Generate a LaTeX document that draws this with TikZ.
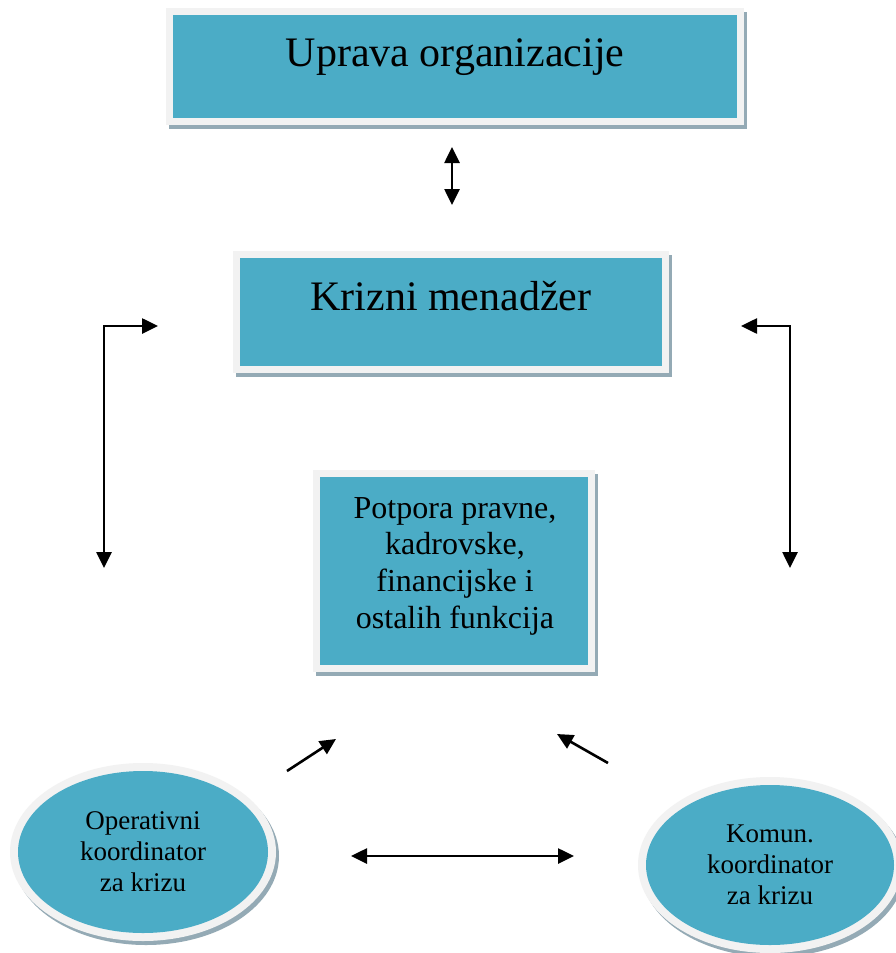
\documentclass[tikz,border=0pt]{standalone}
\usepackage{fontspec}
\setmainfont{Liberation Serif}
\usetikzlibrary{arrows.meta,calc,backgrounds,shapes.geometric}
\definecolor{tealfill}{HTML}{4BACC6}
\definecolor{framecol}{HTML}{F2F2F2}
\definecolor{shadowcol}{HTML}{94AAB5}
\begin{document}
\begin{tikzpicture}[x=1pt,y=-1pt,
  tealbox/.style={fill=tealfill, inner sep=0pt, minimum width=#1},
  tealoval/.style={ellipse, fill=tealfill, inner sep=0pt, align=center,
     font=\fontsize{27}{31}\selectfont},
  bigtext/.style={anchor=base, inner sep=0pt, font=\fontsize{42}{48}\selectfont},
  midtext/.style={inner sep=0pt, align=center, font=\fontsize{32}{36.7}\selectfont},
  tip/.tip={Triangle[length=16pt,width=15pt]},
  conn/.style={line width=2.6pt, -tip},
  dconn/.style={line width=2.6pt, tip-tip},
]
\useasboundingbox (0,0) rectangle (896,953);

% boxes
\node[tealbox=564pt, minimum height=103pt] (uprava) at (455,66.5) {};
\node[tealbox=422pt, minimum height=108pt] (krizni) at (451,312) {};
\node[tealbox=268pt, minimum height=188pt] (potpora) at (454,571) {};
% ovals
\node[tealoval, minimum width=250pt, minimum height=162pt] (oper) at (143,852)
  {Operativni\\koordinator\\za krizu};
\node[tealoval, minimum width=248pt, minimum height=160pt] (komun) at (770,865)
  {Komun.\\koordinator\\za krizu};

% texts
\node[bigtext] (upravat) at (455,66) {Uprava organizacije};
\node[bigtext] (krizint) at (451,310) {Krizni menadžer};
\node[midtext] (potporat) at (455,566) {Potpora pravne,\\kadrovske,\\financijske i\\ostalih funkcija};

\begin{scope}[on background layer]
  \fill[white] (0,0) rectangle (896,953);
  \foreach \n in {uprava,krizni,potpora}{
    \fill[shadowcol] ($(\n.north west)+(-7+3,-7+4)$) rectangle ($(\n.south east)+(7+3,7+4)$);
    \fill[framecol] ($(\n.north west)+(-7,-7)$) rectangle ($(\n.south east)+(7,7)$);
  }
  \fill[shadowcol] ($(oper.center)+(3,4)$) ellipse [x radius=133pt, y radius=89pt];
  \fill[framecol] (oper.center) ellipse [x radius=133pt, y radius=89pt];
  \fill[shadowcol] ($(komun.center)+(3,4)$) ellipse [x radius=132pt, y radius=88pt];
  \fill[framecol] (komun.center) ellipse [x radius=132pt, y radius=88pt];
\end{scope}

% connector end points
\coordinate (a1) at (452,147);
\coordinate (a2) at (452,205);
\coordinate (l1) at (158,326);
\coordinate (l2) at (104,568);
\coordinate (r1) at (741,326);
\coordinate (r2) at (790,568);
\coordinate (d1) at (287,771);
\coordinate (d2) at (336,739);
\coordinate (e1) at (608,763);
\coordinate (e2) at (557,734);
\coordinate (h1) at (351,856);
\coordinate (h2) at (574,856);

\draw[dconn] (a1) -- (a2);
\draw[dconn] (l1) -| (l2);
\draw[dconn] (r1) -| (r2);
\draw[conn] (d1) -- (d2);
\draw[conn] (e1) -- (e2);
\draw[dconn] (h1) -- (h2);
\end{tikzpicture}
\end{document}
